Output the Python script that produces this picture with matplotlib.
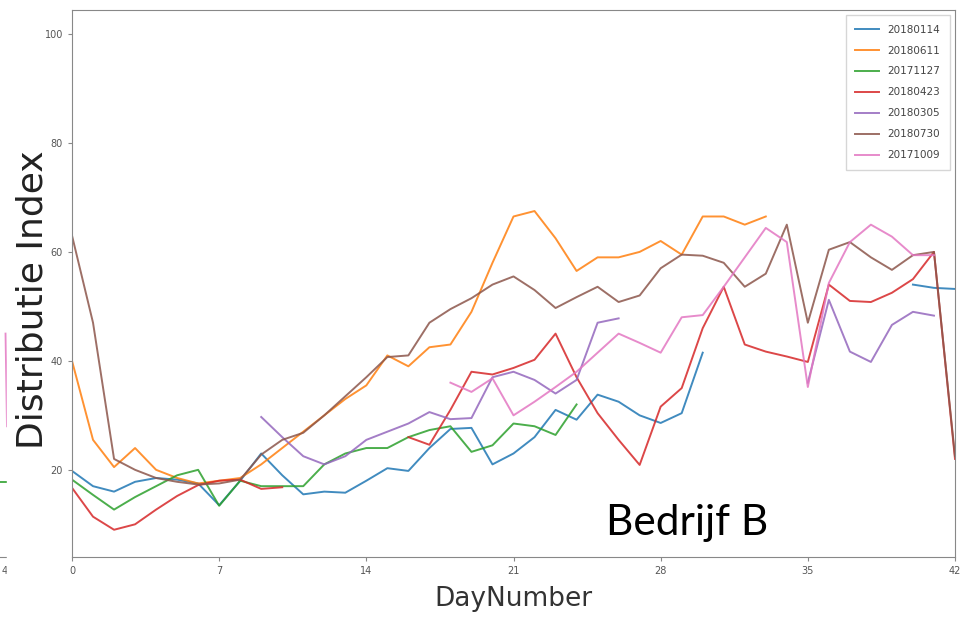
import numpy as np
import matplotlib
matplotlib.use("Agg")
import matplotlib.pyplot as plt

nan = np.nan
days = np.arange(43)

labels = ["20180114", "20180611", "20171127", "20180423", "20180305", "20180730", "20171009"]
colors = ["#1f77b4", "#ff7f0e", "#2ca02c", "#d62728", "#9467bd", "#8c564b", "#e377c2"]

s_20180114 = [19.8, 17, 16, 17.8, 18.5, 18.2, 17.5, 13.5, 18, 23, 19, 15.5, 16, 15.8, 18, 20.3,
              19.8, 24, 27.5, 27.7, 21, 23, 26, 31, 29.2, 33.8, 32.5, 30, 28.6, 30.4, 41.5,
              nan, nan, nan, nan, nan, nan, nan, nan, nan, 54, 53.4, 53.2]
s_20180611 = [40, 25.5, 20.5, 24, 20, 18.5, 17.5, 18, 18.5, 21, 24, 27, 30, 33, 35.5, 41,
              39, 42.5, 43, 49, 58, 66.5, 67.5, 62.5, 56.5, 59, 59, 60, 62, 59.5, 66.5,
              66.5, 65, 66.5, nan, nan, nan, nan, nan, nan, nan, nan, nan]
s_20171127 = [18.2, 15.4, 12.7, 15, 17, 19, 20, 13.4, 18, 17, 17, 17, 21, 23, 24, 24,
              26, 27.3, 28, 23.3, 24.5, 28.5, 28, 26.4, 32, nan, nan, nan, nan, nan, nan,
              nan, nan, nan, nan, nan, nan, nan, nan, nan, nan, nan, nan]
s_20180423 = [16.7, 11.4, 9, 10, 12.7, 15.2, 17.2, 18, 18.2, 16.5, 16.8, nan, nan, nan, nan, nan,
              26, 24.6, 31, 38, 37.5, 38.7, 40.2, 45, 37, 30.4, 25.5, 20.9, 31.6, 35, 46,
              53.6, 43, 41.7, 40.8, 39.8, 54, 51, 50.8, 52.5, 55, 60, 22]
s_20180305 = [nan, nan, nan, nan, nan, nan, nan, nan, nan, 29.7, 26, 22.5, 21, 22.5, 25.5, 27,
              28.5, 30.6, 29.3, 29.5, 37, 38, 36.5, 34, 36.5, 47, 47.8, nan, nan, nan, nan,
              nan, nan, nan, nan, 36, 51.2, 41.7, 39.8, 46.6, 49, 48.3, nan]
s_20180730 = [63, 47, 22, 20, 18.5, 17.8, 17.3, 17.5, 18.2, 22.8, 25.5, 26.8, 30, 33.5, 37, 40.7,
              41, 47, 49.5, 51.5, 54, 55.5, 53, 49.7, 51.7, 53.6, 50.8, 52, 57, 59.5, 59.3,
              58, 53.6, 56, 65, 47, 60.4, 61.8, 59, 56.7, 59.4, 60, 22.5]
s_20171009 = [nan, nan, nan, nan, nan, nan, nan, nan, nan, nan, nan, nan, nan, nan, nan, nan,
              nan, nan, 36, 34.3, 36.8, 30, 32.5, 35.2, 38, 41.5, 45, 43.3, 41.5, 48, 48.4,
              53.6, 59, 64.4, 61.8, 35.2, 54.3, 61.8, 65, 62.8, 59.4, 59.4, nan]
series = [s_20180114, s_20180611, s_20171127, s_20180423, s_20180305, s_20180730, s_20171009]

# right end of the neighbouring chart that got cropped into the screenshot
nb_days_green = [40, 42]
nb_green = [17.8, 17.8]
nb_days_pink = [41.75, 41.9]
nb_pink = [45, 28]

xticks = [0, 7, 14, 21, 28, 35, 42]
yticks = [20, 40, 60, 80, 100]

W, H = 961, 619
fig = plt.figure(figsize=(W / 100, H / 100), dpi=100)

ax = fig.add_axes([72 / W, 62 / H, 883 / W, 547 / H])
ax.set_zorder(2)

ax0 = fig.add_axes([-400 / W, 62 / H, 408 / W, 547 / H])
ax0.set_zorder(0)
ax0.plot(nb_days_green, nb_green, color="#2ca02c", lw=1.4, alpha=0.85)
ax0.plot(nb_days_pink, nb_pink, color="#e377c2", lw=1.4, alpha=0.85)
ax0.set_xlim(0, 42)
ax0.set_ylim(4, 104.4)
ax0.set_xticks([42])
ax0.set_xticklabels(["42"], fontsize=7, color="#555")
ax0.set_yticks([])
for side in ["top", "right", "left"]:
    ax0.spines[side].set_visible(False)
ax0.spines["bottom"].set_color("#888")
ax0.tick_params(length=3, color="#888")

# white strip where the screenshot was cut
fig.patches.append(plt.Rectangle((7 / W, 0), 60 / W, 1, transform=fig.transFigure,
                                 color="white", zorder=1))

for vals, lab, col in zip(series, labels, colors):
    ax.plot(days, vals, color=col, lw=1.4, alpha=0.85, label=lab)

ax.set_xlim(0, 42)
ax.set_ylim(4, 104.4)
ax.set_xticks(xticks)
ax.set_yticks(yticks)
ax.tick_params(labelsize=7, labelcolor="#555", color="#888", length=3)
for sp in ax.spines.values():
    sp.set_color("#888")

ax.set_xlabel("DayNumber", fontsize=19, color="#333", labelpad=7)
ax.set_ylabel("Distributie Index", fontsize=26, color="#222")
ax.yaxis.set_label_coords(-0.026, 0.47)

leg = ax.legend(loc="upper right", fontsize=7.5, labelspacing=1.05, handlelength=2.3,
                frameon=True, fancybox=False, borderpad=0.9)
leg.get_frame().set_edgecolor("#ccc")
for t in leg.get_texts():
    t.set_color("#444")

ax.text(0.605, 0.04, "Bedrijf B", transform=ax.transAxes, fontsize=30.5,
        family="Lato", color="black")

fig.savefig("out.png", dpi=100)
